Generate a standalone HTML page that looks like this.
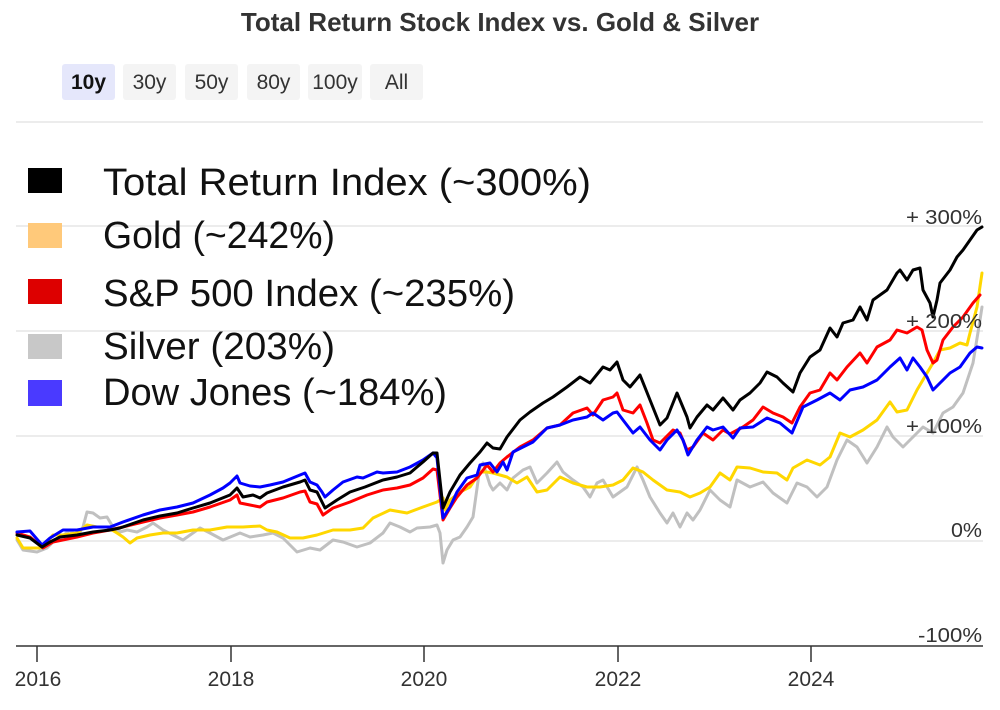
<!DOCTYPE html>
<html>
<head>
<meta charset="utf-8">
<style>
html,body{margin:0;padding:0;background:#fff;}
body{width:1000px;height:710px;overflow:hidden;}
svg{display:block;font-family:"Liberation Sans",Arial,sans-serif;}
</style>
</head>
<body>
<svg width="1000" height="710" viewBox="0 0 1000 710" xmlns="http://www.w3.org/2000/svg">
  <rect width="1000" height="710" fill="#fff"/>
  <!-- Title -->
  <text x="500" y="31" text-anchor="middle" font-size="26" font-weight="bold" fill="#333">Total Return Stock Index vs. Gold &amp; Silver</text>

  <!-- Range buttons -->
  <rect x="62" y="64" width="53" height="36" rx="3" fill="#e5e7fb"/>
  <rect x="123" y="64" width="53" height="36" rx="3" fill="#f4f4f4"/>
  <rect x="185" y="64" width="53" height="36" rx="3" fill="#f4f4f4"/>
  <rect x="247" y="64" width="53" height="36" rx="3" fill="#f4f4f4"/>
  <rect x="308" y="64" width="54" height="36" rx="3" fill="#f4f4f4"/>
  <rect x="370" y="64" width="53" height="36" rx="3" fill="#f4f4f4"/>
  <g font-size="21" text-anchor="middle" fill="#333">
    <text x="88.5" y="89" font-weight="bold" fill="#111">10y</text>
    <text x="149.5" y="89">30y</text>
    <text x="211.5" y="89">50y</text>
    <text x="273.5" y="89">80y</text>
    <text x="335" y="89">100y</text>
    <text x="396.5" y="89">All</text>
  </g>

  <!-- Gridlines -->
  <g stroke="#e6e6e6" stroke-width="1.5">
    <line x1="16" y1="122" x2="983" y2="122"/>
    <line x1="16" y1="226" x2="983" y2="226"/>
    <line x1="16" y1="331" x2="983" y2="331"/>
    <line x1="16" y1="436" x2="983" y2="436"/>
    <line x1="16" y1="541" x2="983" y2="541"/>
  </g>

  <!-- Axis -->
  <line x1="16" y1="646" x2="983" y2="646" stroke="#333" stroke-width="1.5"/>
  <g stroke="#333" stroke-width="1.5">
    <line x1="37" y1="646" x2="37" y2="662"/>
    <line x1="231" y1="646" x2="231" y2="662"/>
    <line x1="424" y1="646" x2="424" y2="662"/>
    <line x1="618" y1="646" x2="618" y2="662"/>
    <line x1="811" y1="646" x2="811" y2="662"/>
  </g>
  <g font-size="21" text-anchor="middle" fill="#333">
    <text x="38" y="686">2016</text>
    <text x="231" y="686">2018</text>
    <text x="424" y="686">2020</text>
    <text x="618" y="686">2022</text>
    <text x="811" y="686">2024</text>
  </g>

  <!-- Series -->
  <g fill="none" stroke-width="3" stroke-linejoin="round" stroke-linecap="round">
    <polyline stroke="#c0c0c0" points="17,540 23,550 37,552 47,548 53,542 60,538 70,530 77,537 83,527 87,512 93,513 100,518 107,517 113,527 120,532 127,530 137,532 147,527 153,523 163,530 173,535 183,540 200,528 210,533 223,540 240,533 250,537 263,535 273,533 283,538 297,552 310,548 320,550 333,540 343,542 357,547 370,543 383,533 390,523 400,527 410,532 417,528 430,527 437,525 440,533 443,563 447,550 453,540 460,537 467,527 473,517 480,467 483,463 490,485 493,490 500,483 507,490 513,478 523,470 530,467 537,483 547,473 557,462 563,472 573,480 583,487 590,497 597,483 603,480 613,497 627,487 637,467 643,480 650,497 660,513 667,523 673,513 680,527 687,513 693,520 700,510 710,490 720,500 730,507 737,480 750,487 763,482 773,493 787,503 797,483 807,487 817,497 827,487 837,460 847,440 857,447 867,463 877,447 887,427 893,437 903,447 913,437 923,427 933,433 943,413 953,407 963,393 973,363 980,320 982,307"/>
    <polyline stroke="#ffd700" points="17,538 23,548 40,548 47,542 53,535 63,535 77,533 87,525 97,527 107,527 117,533 123,537 130,543 137,538 150,535 163,533 177,533 193,530 210,530 227,527 243,527 260,526 267,530 277,532 290,538 303,538 317,535 333,530 350,530 363,528 373,518 390,510 407,513 423,507 437,502 443,498 445,510 450,500 460,492 470,487 480,472 487,472 493,473 507,477 517,483 527,477 537,492 547,490 560,477 573,483 587,487 600,487 613,485 623,480 633,468 643,472 653,480 667,490 680,492 690,497 700,493 710,487 720,473 730,480 737,467 750,468 763,472 777,473 787,480 793,468 807,460 820,465 830,457 840,433 850,437 863,430 877,420 890,402 897,412 907,410 917,390 927,373 933,363 940,350 950,348 960,343 967,345 970,333 977,307 982,273"/>
    <polyline stroke="#ff0000" points="17,533 30,537 43,548 53,542 77,537 93,533 110,530 123,527 143,522 160,518 177,515 193,512 210,507 230,500 237,495 240,503 250,505 260,507 267,502 283,498 300,492 305,491 310,502 317,504 323,515 333,508 350,502 367,495 383,490 397,488 410,485 423,478 433,469 437,470 443,520 450,508 457,497 467,485 477,478 487,465 493,472 500,463 507,457 520,447 533,440 547,428 560,425 573,413 587,408 593,415 603,400 613,397 617,393 623,410 633,413 640,405 647,423 653,440 660,443 673,430 680,433 687,450 693,447 703,433 713,440 723,430 730,434 743,427 753,420 763,407 773,413 783,417 792,423 800,407 810,393 820,390 830,373 837,380 847,367 860,353 867,363 877,347 890,340 897,330 907,333 917,327 922,330 927,350 933,363 937,360 943,340 953,327 963,317 973,303 980,295"/>
    <polyline stroke="#0000ff" points="17,532 30,531 42,545 50,538 63,530 77,530 93,527 110,527 123,522 143,515 160,510 177,507 193,503 210,495 223,488 230,483 237,476 240,483 250,486 260,487 270,485 283,482 300,475 305,473 310,482 317,485 322,492 325,497 333,490 343,482 357,477 363,478 377,472 383,473 397,472 410,467 423,460 433,453 437,458 443,518 450,507 457,492 467,478 477,475 480,465 490,463 497,472 503,462 507,470 513,452 523,447 533,442 547,428 560,425 573,420 587,417 593,413 603,420 613,413 617,412 623,420 633,433 640,427 650,440 660,450 667,440 677,430 683,440 688,455 697,440 707,427 713,430 723,427 733,438 740,428 753,427 767,418 780,423 792,433 803,407 817,400 830,393 840,400 850,390 863,387 877,380 890,367 900,358 907,370 913,358 920,367 927,377 933,390 940,383 950,373 960,367 970,353 977,347 982,348"/>
    <polyline stroke="#000000" points="17,535 30,538 42,547 50,542 60,537 77,535 93,532 110,530 120,528 143,520 160,516 177,513 193,508 210,503 230,495 237,488 243,497 253,495 260,498 267,493 283,487 300,482 305,480 310,490 317,492 325,508 337,500 350,492 365,487 383,480 397,477 410,473 417,467 423,462 433,453 437,453 443,508 450,492 460,475 470,463 480,452 487,443 493,448 500,449 507,437 520,420 530,412 543,403 553,397 567,387 580,377 590,383 603,367 610,370 617,362 623,380 630,387 640,375 650,400 660,425 667,418 677,393 687,417 690,428 697,417 707,405 713,410 723,398 733,410 740,400 750,393 760,383 767,372 777,377 783,383 793,392 800,373 810,357 820,350 830,328 837,337 843,323 853,320 860,307 867,320 873,300 887,290 897,273 900,270 907,280 913,270 920,268 923,290 930,303 933,317 937,300 940,283 950,270 957,257 963,250 970,240 977,230 982,227"/>
  </g>

  <!-- Right axis labels -->
  <g font-size="20" text-anchor="end" fill="#333">
    <text x="982" y="224" textLength="76" lengthAdjust="spacingAndGlyphs">+ 300%</text>
    <text x="982" y="328" textLength="76" lengthAdjust="spacingAndGlyphs">+ 200%</text>
    <text x="982" y="433" textLength="76" lengthAdjust="spacingAndGlyphs">+ 100%</text>
    <text x="982" y="537" textLength="31" lengthAdjust="spacingAndGlyphs">0%</text>
    <text x="982" y="642" textLength="64" lengthAdjust="spacingAndGlyphs">-100%</text>
  </g>

  <!-- Legend -->
  <rect x="28" y="168" width="34" height="25" fill="#000000"/>
  <rect x="28" y="223" width="34" height="25" fill="#ffc97a"/>
  <rect x="28" y="279" width="34" height="25" fill="#dd0000"/>
  <rect x="28" y="334" width="34" height="25" fill="#c8c8c8"/>
  <rect x="28" y="380" width="34" height="26" fill="#4a3aff"/>
  <g font-size="38" fill="#111">
    <text x="103" y="195" textLength="488" lengthAdjust="spacingAndGlyphs">Total Return Index (~300%)</text>
    <text x="103" y="248" textLength="232" lengthAdjust="spacingAndGlyphs">Gold (~242%)</text>
    <text x="103" y="306" textLength="412" lengthAdjust="spacingAndGlyphs">S&amp;P 500 Index (~235%)</text>
    <text x="103" y="359" textLength="232" lengthAdjust="spacingAndGlyphs">Silver (203%)</text>
    <text x="103" y="405" textLength="344" lengthAdjust="spacingAndGlyphs">Dow Jones (~184%)</text>
  </g>
</svg>
</body>
</html>
